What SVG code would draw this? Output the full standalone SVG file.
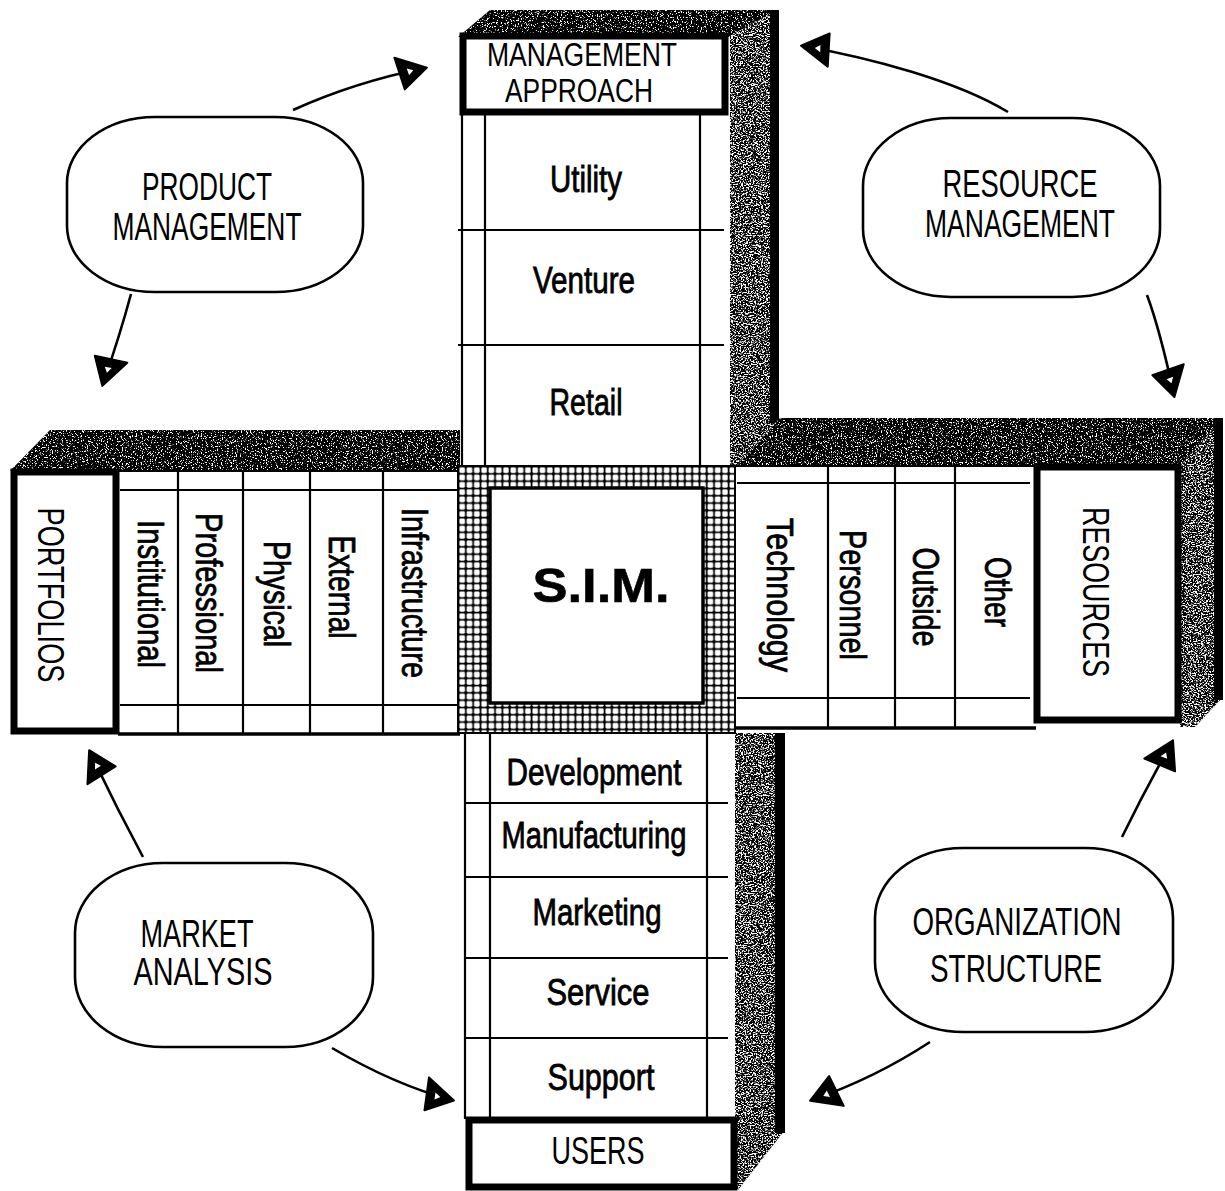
<svg xmlns="http://www.w3.org/2000/svg" width="1225" height="1191" viewBox="0 0 1225 1191">
  <defs>
    <style>
      .ln{fill:none;stroke:#000;stroke-width:2.2}
      .edge{fill:none;stroke:#000;stroke-width:3.5}
      .body{fill:#fff;stroke:none}
      .frame{fill:#fff;stroke:#000;stroke-width:7}
      .lbl{font-family:"Liberation Sans",Arial,Helvetica,sans-serif;font-size:36px;fill:#000;text-anchor:middle}
      .b{stroke:#000;stroke-width:0.8}
      .vl{dominant-baseline:central}
      .big{font-size:38px}
      .hdr{font-size:33px}
      .sim{font-weight:bold;font-size:48px;stroke:#000;stroke-width:0.6}
      .topface{fill:#000;filter:url(#grainTop)}
      .sideface{fill:#000;filter:url(#grainSide)}
      .node{fill:#fff;stroke:#000;stroke-width:2.6}
      .arrow{fill:none;stroke:#000;stroke-width:2.6;marker-end:url(#head)}
    </style>
    <!-- speckled toner texture for the shaded faces -->
    <filter id="grainTop" x="0" y="0" width="1" height="1" color-interpolation-filters="sRGB">
      <feTurbulence type="fractalNoise" baseFrequency="0.8" numOctaves="3" seed="4" result="n"/>
      <feColorMatrix in="n" type="matrix" values="0 0 0 0 1  0 0 0 0 1  0 0 0 0 1  12 0 0 0 -7" result="w"/>
      <feComposite in="w" in2="SourceAlpha" operator="in" result="wc"/>
      <feMerge><feMergeNode in="SourceGraphic"/><feMergeNode in="wc"/></feMerge>
    </filter>
    <filter id="grainSide" x="0" y="0" width="1" height="1" color-interpolation-filters="sRGB">
      <feTurbulence type="fractalNoise" baseFrequency="0.6 0.9" numOctaves="3" seed="9" result="n"/>
      <feColorMatrix in="n" type="matrix" values="0 0 0 0 1  0 0 0 0 1  0 0 0 0 1  8 0 0 0 -3.9" result="w"/>
      <feComposite in="w" in2="SourceAlpha" operator="in" result="wc"/>
      <feMerge><feMergeNode in="SourceGraphic"/><feMergeNode in="wc"/></feMerge>
    </filter>
    <!-- checkered band around the centre square -->
    <pattern id="mesh" patternUnits="userSpaceOnUse" x="458" y="466" width="7.3" height="7.3">
      <rect width="7.3" height="7.3" fill="#000"/>
      <rect x="1.4" y="1.4" width="5.6" height="5.6" rx="1.3" fill="#fff"/>
    </pattern>
    <!-- heavy arrowhead with a small light core -->
    <marker id="head" markerUnits="userSpaceOnUse" viewBox="-34 -22 40 44" markerWidth="40" markerHeight="44" refX="0" refY="0" orient="auto" overflow="visible">
      <path d="M2,0 L-28,-16 L-24,17 Z" fill="#000" stroke="#000" stroke-width="2" stroke-linejoin="round"/>
      <path d="M-12,0 L-18,-3 L-17,4 Z" fill="#fff"/>
    </marker>
  </defs>

  <rect width="1225" height="1191" fill="#fff"/>

  <!-- shaded faces of the cross -->
  <g id="faces">
    <polygon class="topface" points="458,37 490,10 778,10 728,37"/>
    <polygon class="sideface" points="728,37 778,10 778,420 736,466 730,466 730,37"/>
    <rect x="770" y="10" width="9" height="412" fill="#000"/>
    <polygon class="topface" points="10,471 50,430 462,430 462,471"/>
    <polygon class="topface" points="736,466 780,418 1223,418 1180,466"/>
    <polygon class="sideface" points="1180,466 1223,418 1223,697 1195,727 1180,727"/>
    <rect x="1214" y="418" width="9" height="282" fill="#000"/>
    <polygon class="sideface" points="735,733 785,733 785,1130 738,1190 735,1190"/>
    <rect x="775" y="733" width="10" height="400" fill="#000"/>
  </g>

  <!-- upper arm: management approach -->
  <g id="management-approach">
    <rect class="body" x="460" y="113" width="270" height="353"/>
    <path class="ln" d="M462,113 V466 M485,113 V466 M700,113 V466 M458,230 H724 M458,345 H724"/>
    <rect class="frame" x="463" y="36" width="262" height="76"/>
    <text class="lbl hdr" x="582" y="66" textLength="190" lengthAdjust="spacingAndGlyphs">MANAGEMENT</text>
    <text class="lbl hdr" x="579" y="102" textLength="148" lengthAdjust="spacingAndGlyphs">APPROACH</text>
    <text class="lbl b" x="586" y="192" textLength="72" lengthAdjust="spacingAndGlyphs">Utility</text>
    <text class="lbl b" x="584" y="293" textLength="102" lengthAdjust="spacingAndGlyphs">Venture</text>
    <text class="lbl b" x="586" y="415" textLength="73" lengthAdjust="spacingAndGlyphs">Retail</text>
  </g>

  <!-- left arm: portfolios -->
  <g id="portfolios">
    <rect class="body" x="118" y="470" width="342" height="264"/>
    <path class="ln" d="M118,471 H460 M120,490 H458 M120,705 H458 M178,471 V734 M243,471 V734 M310,471 V734 M383,471 V734"/>
    <path class="edge" d="M118,734 H460"/>
    <rect class="frame" x="14" y="472" width="102" height="259"/>
    <text class="lbl vl" transform="translate(50,595) rotate(90)" textLength="175" lengthAdjust="spacingAndGlyphs">PORTFOLIOS</text>
    <text class="lbl vl b" transform="translate(150,594) rotate(90)" textLength="148" lengthAdjust="spacingAndGlyphs">Institutional</text>
    <text class="lbl vl b" transform="translate(208,593) rotate(90)" textLength="160" lengthAdjust="spacingAndGlyphs">Professional</text>
    <text class="lbl vl b" transform="translate(276,594) rotate(90)" textLength="106" lengthAdjust="spacingAndGlyphs">Physical</text>
    <text class="lbl vl b" transform="translate(341,587) rotate(90)" textLength="103" lengthAdjust="spacingAndGlyphs">External</text>
    <text class="lbl vl b" transform="translate(414,593) rotate(90)" textLength="170" lengthAdjust="spacingAndGlyphs">Infrastructure</text>
  </g>

  <!-- right arm: resources -->
  <g id="resources">
    <rect class="body" x="735" y="465" width="302" height="263"/>
    <path class="ln" d="M735,466 H1036 M737,483 H1030 M737,698 H1030 M828,466 V728 M895,466 V728 M955,466 V728"/>
    <path class="edge" d="M735,728 H1036"/>
    <rect class="frame" x="1037" y="467" width="141" height="253"/>
    <text class="lbl vl" transform="translate(1095,592) rotate(90)" textLength="170" lengthAdjust="spacingAndGlyphs">RESOURCES</text>
    <text class="lbl vl b" transform="translate(779,595) rotate(90)" textLength="154" lengthAdjust="spacingAndGlyphs">Technology</text>
    <text class="lbl vl b" transform="translate(852,595) rotate(90)" textLength="130" lengthAdjust="spacingAndGlyphs">Personnel</text>
    <text class="lbl vl b" transform="translate(925,597) rotate(90)" textLength="99" lengthAdjust="spacingAndGlyphs">Outside</text>
    <text class="lbl vl b" transform="translate(997,592) rotate(90)" textLength="70" lengthAdjust="spacingAndGlyphs">Other</text>
  </g>

  <!-- lower arm: users -->
  <g id="users">
    <rect class="body" x="463" y="733" width="272" height="386"/>
    <path class="ln" d="M465,733 V1119 M490,733 V1119 M707,733 V1119 M465,803 H728 M465,877 H728 M465,958 H728 M465,1038 H728"/>
    <rect class="frame" x="469" y="1120" width="265" height="67"/>
    <text class="lbl big" x="598" y="1164" textLength="93" lengthAdjust="spacingAndGlyphs">USERS</text>
    <text class="lbl b" x="594" y="785" textLength="175" lengthAdjust="spacingAndGlyphs">Development</text>
    <text class="lbl b" x="594" y="848" textLength="185" lengthAdjust="spacingAndGlyphs">Manufacturing</text>
    <text class="lbl b" x="597" y="925" textLength="129" lengthAdjust="spacingAndGlyphs">Marketing</text>
    <text class="lbl b" x="598" y="1005" textLength="103" lengthAdjust="spacingAndGlyphs">Service</text>
    <text class="lbl b" x="601" y="1090" textLength="107" lengthAdjust="spacingAndGlyphs">Support</text>
  </g>

  <!-- centre square -->
  <g id="sim">
    <rect x="458" y="466" width="277" height="267" fill="url(#mesh)" stroke="#000" stroke-width="2"/>
    <rect x="490" y="488" width="213" height="215" fill="#fff" stroke="#000" stroke-width="3.5"/>
    <text class="lbl sim" x="601" y="602" textLength="137" lengthAdjust="spacingAndGlyphs">S.I.M.</text>
  </g>

  <!-- management activities around the cross -->
  <g id="product-management">
    <rect class="node" x="67" y="117" width="296" height="175" rx="88" ry="66"/>
    <text class="lbl big" x="207" y="200" textLength="130" lengthAdjust="spacingAndGlyphs">PRODUCT</text>
    <text class="lbl big" x="207" y="240" textLength="189" lengthAdjust="spacingAndGlyphs">MANAGEMENT</text>
  </g>
  <g id="resource-management">
    <rect class="node" x="863" y="118" width="297" height="179" rx="88" ry="68"/>
    <text class="lbl big" x="1020" y="197" textLength="155" lengthAdjust="spacingAndGlyphs">RESOURCE</text>
    <text class="lbl big" x="1020" y="237" textLength="190" lengthAdjust="spacingAndGlyphs">MANAGEMENT</text>
  </g>
  <g id="market-analysis">
    <rect class="node" x="75" y="863" width="298" height="184" rx="88" ry="70"/>
    <text class="lbl big" x="197" y="947" textLength="113" lengthAdjust="spacingAndGlyphs">MARKET</text>
    <text class="lbl big" x="203" y="985" textLength="139" lengthAdjust="spacingAndGlyphs">ANALYSIS</text>
  </g>
  <g id="organization-structure">
    <rect class="node" x="875" y="848" width="298" height="184" rx="88" ry="70"/>
    <text class="lbl big" x="1017" y="935" textLength="209" lengthAdjust="spacingAndGlyphs">ORGANIZATION</text>
    <text class="lbl big" x="1016" y="982" textLength="172" lengthAdjust="spacingAndGlyphs">STRUCTURE</text>
  </g>

  <!-- connectors -->
  <g id="connectors">
    <path class="arrow" d="M293,110 Q355,82 425,68"/>
    <path class="arrow" d="M131,294 Q120,335 103,384"/>
    <path class="arrow" d="M1008,112 C955,80 870,58 803,46"/>
    <path class="arrow" d="M1147,295 Q1160,330 1174,395"/>
    <path class="arrow" d="M143,857 Q115,805 90,752"/>
    <path class="arrow" d="M332,1048 Q395,1085 452,1100"/>
    <path class="arrow" d="M1122,837 Q1145,790 1172,742"/>
    <path class="arrow" d="M930,1042 Q875,1078 812,1100"/>
  </g>
</svg>
